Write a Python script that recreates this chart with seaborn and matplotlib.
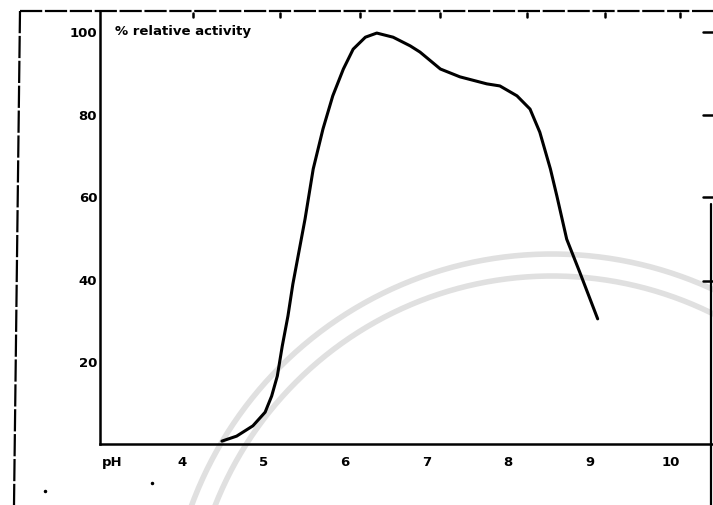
# pH activity profile (% relative activity vs pH), redrawn from a scanned figure
import numpy as np
import matplotlib
matplotlib.use("Agg")
import matplotlib.pyplot as plt
import seaborn as sns

# Data
ph = [4.49, 4.67, 4.87, 5.02, 5.10, 5.17, 5.23, 5.30, 5.36, 5.51, 5.61, 5.73,
      5.85, 5.98, 6.10, 6.25, 6.39, 6.59, 6.80, 6.92, 7.17, 7.41, 7.74, 7.90,
      8.11, 8.27, 8.39, 8.52, 8.60, 8.72, 8.88, 9.10]
activity = [0.7, 1.9, 4.4, 7.7, 11.6, 16.5, 23.7, 31.0, 38.7, 54.5, 66.6, 76.3,
            84.3, 90.8, 95.6, 98.5, 99.5, 98.5, 96.4, 94.9, 90.8, 88.9, 87.2, 86.7,
            84.3, 81.1, 75.5, 66.6, 60.0, 49.6, 41.6, 30.3]
x_ticks = [4, 5, 6, 7, 8, 9, 10]
y_ticks = [20, 40, 60, 80, 100]

sns.set_style("white")
plt.rcParams['font.family'] = ['DejaVu Sans']
plt.rcParams['text.color'] = 'black'

W, H = 713, 506
fig = plt.figure(figsize=(W / 100, H / 100), dpi=100)

# background layer in pixel coordinates (scan frame + faint watermark arcs)
bg = fig.add_axes([0, 0, 1, 1])
bg.set_xlim(0, W)
bg.set_ylim(H, 0)
bg.axis("off")
bg.set_zorder(1)

t = np.linspace(np.pi + 0.2, 5.4, 300)
for r in [384, 362]:
    bg.plot(552 + r * np.cos(t), 639 + r * np.sin(t), color="#e0e0e0", lw=4,
            solid_capstyle="butt")

frame = dict(color="black", lw=1.6, ls=(0, (10, 1.2)))
bg.plot([20, 14], [12, H], **frame)
bg.plot([20, W], [12, 12], **frame)
bg.plot([711, 711], [205, H], color="black", lw=1.6)
for xp in [193, 280, 360, 440, 527, 605, 680]:
    bg.plot([xp, xp], [14, 18], color="black", lw=1.8)
for yp in [33, 116, 198, 282]:
    bg.plot([703, W], [yp, yp], color="black", lw=1.8)
bg.plot([45], [492], marker="o", ms=1.5, color="black")
bg.plot([152], [484], marker="o", ms=1.5, color="black")

# main plot
ax = fig.add_axes([100 / W, (H - 445) / H, (W - 100) / W, (445 - 12) / H])
ax.set_zorder(2)
ax.patch.set_alpha(0)

sns.lineplot(x=ph, y=activity, ax=ax, color="black", lw=2.2)
for ln in ax.lines:
    ln.set_solid_joinstyle("round")
    ln.set_solid_capstyle("round")

ax.set_xlim(2.994, 10.515)
ax.set_ylim(0, 433 / 4.13)
sns.despine(ax=ax, top=True, right=True)
for s in ["left", "bottom"]:
    ax.spines[s].set_color("black")
    ax.spines[s].set_linewidth(1.8)

ax.set_xticks(x_ticks)
ax.set_xticklabels([str(v) for v in x_ticks], fontsize=9.5, fontweight="bold")
ax.set_yticks(y_ticks)
ax.set_yticklabels([str(v) for v in y_ticks], fontsize=9.5, fontweight="bold")
ax.tick_params(axis="x", direction="in", length=5, width=1.8, pad=8,
               color="black", labelcolor="black")
ax.tick_params(axis="y", direction="in", length=8, width=1.8, pad=2,
               color="black", labelcolor="black")

ax.text(115, 31, "% relative activity", transform=bg.transData, fontsize=9.5,
        fontweight="bold", va="center", ha="left", color="black")
ax.text(102, 463, "pH", transform=bg.transData, fontsize=9.5,
        fontweight="bold", va="center", ha="left", color="black")

fig.savefig("out.png", dpi=100)
